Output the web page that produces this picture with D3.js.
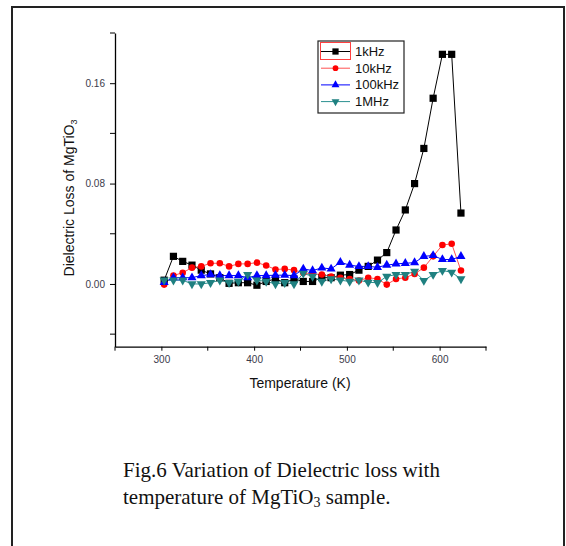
<!DOCTYPE html>
<html>
<head>
<meta charset="utf-8">
<script src="https://cdn.jsdelivr.net/npm/d3@7"></script>
<style>
  body { margin: 0; background: #fff; }
  svg { display: block; }
</style>
</head>
<body>
<svg id="chart" width="566" height="546"></svg>
<script>
// temperature (K)
const temps = [303, 313, 323, 333, 343, 353, 363, 373, 383, 393, 403, 413, 423, 433, 443, 453,
  463, 473, 483, 493, 503, 513, 523, 533, 543, 553, 563, 573, 583, 593, 603, 613, 623];

const loss1k = [0.003, 0.022, 0.018, 0.015, 0.011, 0.008, 0.005, 0.0005, 0.001, 0.001, -0.001, 0.002,
  0.004, 0.001, 0.004, 0.002, 0.002, 0.005, 0.005, 0.007, 0.0075, 0.011, 0.014, 0.019, 0.025,
  0.043, 0.059, 0.080, 0.108, 0.148, 0.183, 0.183, 0.0565];

const loss10k = [-0.0005, 0.0067, 0.009, 0.013, 0.014, 0.0165, 0.0165, 0.014, 0.016, 0.016, 0.017, 0.0147,
  0.0115, 0.012, 0.011, 0.009, 0.008, 0.0075, 0.006, 0.005, 0.004, 0.0027, 0.005, 0.004, -0.0005,
  0.004, 0.005, 0.008, 0.013, 0.022, 0.031, 0.032, 0.0107];

const loss100k = [0.0013, 0.005, 0.005, 0.005, 0.0067, 0.0075, 0.0067, 0.0067, 0.0067, 0.005, 0.0067, 0.0067,
  0.007, 0.007, 0.0067, 0.012, 0.0107, 0.0128, 0.012, 0.0173, 0.015, 0.014, 0.014, 0.0133, 0.015,
  0.016, 0.0165, 0.017, 0.022, 0.0227, 0.0195, 0.0195, 0.022];

const loss1M = [0.003, 0.003, 0.003, 0.0, 0.0, 0.001, 0.003, 0.001, 0.002, 0.0075, 0.003, 0.002,
  0.0, 0.001, 0.0, 0.0085, 0.006, 0.002, 0.004, 0.003, 0.002, 0.003, 0.0013, 0.001, 0.006,
  0.0075, 0.0075, 0.010, 0.0027, 0.0075, 0.0107, 0.0093, 0.004];

const seriesNames = ['1kHz', '10kHz', '100kHz', '1MHz'];
const xTicks = [300, 400, 500, 600];
const yTicks = [0.00, 0.08, 0.16];

const series = [
  { name: seriesNames[0], values: loss1k, line: '#000000', fill: '#000000', symbol: d3.symbolSquare, size: 52, rot: 0 },
  { name: seriesNames[1], values: loss10k, line: '#ff5050', fill: '#ff0000', symbol: d3.symbolCircle, size: 34, rot: 0 },
  { name: seriesNames[2], values: loss100k, line: '#0000ff', fill: '#0000ff', symbol: d3.symbolTriangle, size: 36, rot: 0 },
  { name: seriesNames[3], values: loss1M, line: '#2a9090', fill: '#1f8080', symbol: d3.symbolTriangle, size: 36, rot: 180 }
];

const svg = d3.select('#chart');
const font = 'Arial, "Liberation Sans", sans-serif';

// page frame
svg.append('path')
  .attr('d', 'M12,546 V7 H564 V546')
  .attr('fill', 'none')
  .attr('stroke', '#222')
  .attr('stroke-width', 2);

const x = d3.scaleLinear().domain([250, 650]).range([115, 486]);
const y = d3.scaleLinear().domain([-0.05, 0.2]).range([346.7, 33]);

// x axis
const xAxis = svg.append('g')
  .attr('transform', `translate(0,${y.range()[0]})`)
  .call(d3.axisBottom(x).tickValues(xTicks).tickSize(4).tickSizeOuter(0).tickPadding(5).tickFormat(d3.format('d')));
xAxis.append('g').selectAll('line')
  .data([250, 350, 450, 550, 650])
  .join('line')
  .attr('x1', d => x(d)).attr('x2', d => x(d))
  .attr('y1', 0).attr('y2', 4)
  .attr('stroke', '#000');

// y axis
const yAxis = svg.append('g')
  .attr('transform', `translate(${x.range()[0]},0)`)
  .call(d3.axisLeft(y).tickValues(yTicks).tickSize(5).tickSizeOuter(0).tickPadding(5).tickFormat(d3.format('.2f')));
yAxis.append('g').selectAll('line')
  .data([-0.04, 0.04, 0.12, 0.20])
  .join('line')
  .attr('y1', d => y(d)).attr('y2', d => y(d))
  .attr('x1', 0).attr('x2', -5)
  .attr('stroke', '#000');

[xAxis, yAxis].forEach(a => {
  a.select('.domain').attr('stroke', '#000').attr('stroke-width', 1.3);
  a.selectAll('.tick line').attr('stroke', '#000');
  a.selectAll('.tick text')
    .attr('fill', '#3a3a4a')
    .style('font-family', font)
    .style('font-size', '10px');
});

// axis titles
svg.append('text')
  .attr('x', 300).attr('y', 388)
  .attr('text-anchor', 'middle')
  .style('font-family', font).style('font-size', '14px')
  .attr('fill', '#111')
  .text('Temperature (K)');

const yTitle = svg.append('text')
  .attr('transform', 'translate(74,198) rotate(-90)')
  .attr('text-anchor', 'middle')
  .style('font-family', font).style('font-size', '14px')
  .attr('fill', '#111');
yTitle.append('tspan').text('Dielectric Loss of MgTiO');
yTitle.append('tspan').attr('dy', 3).style('font-size', '9px').text('3');

// lines and markers
const line = d3.line().x((d, i) => x(temps[i])).y(d => y(d));

series.forEach(s => {
  svg.append('path')
    .datum(s.values)
    .attr('fill', 'none')
    .attr('stroke', s.line)
    .attr('stroke-width', 1)
    .attr('d', line);
});
series.forEach(s => {
  svg.append('g').selectAll('path')
    .data(s.values)
    .join('path')
    .attr('transform', (d, i) => `translate(${x(temps[i])},${y(d)}) rotate(${s.rot})`)
    .attr('d', d3.symbol().type(s.symbol).size(s.size))
    .attr('fill', s.fill);
});

// legend
const legend = svg.append('g');
legend.append('rect')
  .attr('x', 318).attr('y', 41)
  .attr('width', 86).attr('height', 72)
  .attr('fill', '#fff')
  .attr('stroke', '#222')
  .attr('stroke-width', 1.2);
legend.append('rect')
  .attr('x', 320.5).attr('y', 42.5)
  .attr('width', 30).attr('height', 17)
  .attr('fill', 'none')
  .attr('stroke', '#ff4040')
  .attr('stroke-width', 1);

series.forEach((s, i) => {
  const ly = 51.5 + i * 16.7;
  legend.append('line')
    .attr('x1', 321).attr('x2', 350)
    .attr('y1', ly).attr('y2', ly)
    .attr('stroke', s.line).attr('stroke-width', 1);
  legend.append('path')
    .attr('transform', `translate(335.5,${ly}) rotate(${s.rot})`)
    .attr('d', d3.symbol().type(s.symbol).size(s.size * 0.75))
    .attr('fill', s.fill);
  legend.append('text')
    .attr('x', 355).attr('y', ly + 4.5)
    .style('font-family', font).style('font-size', '13px')
    .attr('fill', '#111')
    .text(s.name);
});

// caption
const serif = '"Times New Roman", "Liberation Serif", serif';
svg.append('text')
  .attr('x', 123).attr('y', 477)
  .style('font-family', serif).style('font-size', '21px')
  .attr('fill', '#111')
  .text('Fig.6 Variation of Dielectric loss with');
const cap2 = svg.append('text')
  .attr('x', 123).attr('y', 504)
  .style('font-family', serif).style('font-size', '21px')
  .attr('fill', '#111');
cap2.append('tspan').text('temperature of MgTiO');
cap2.append('tspan').attr('dy', 3).style('font-size', '14px').text('3');
cap2.append('tspan').attr('dy', -3).text(' sample.');
</script>
</body>
</html>
